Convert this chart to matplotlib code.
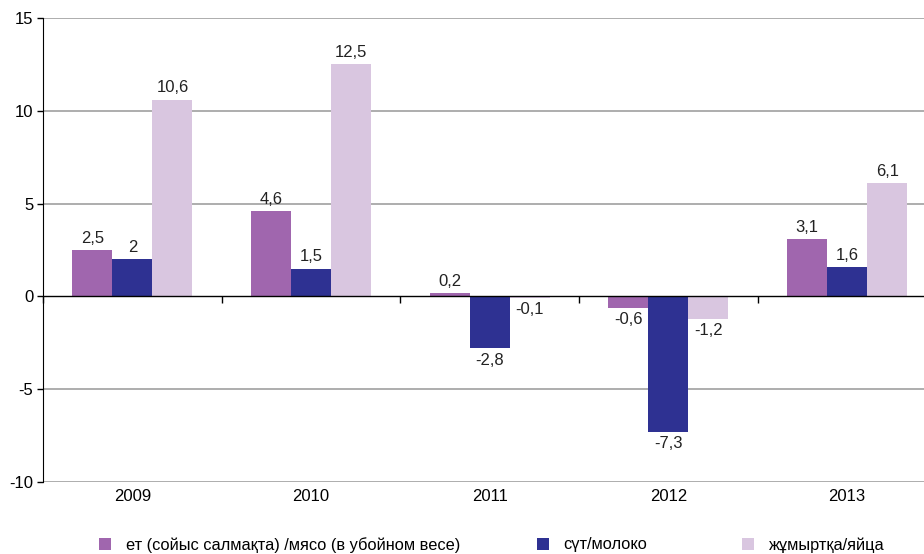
import matplotlib
matplotlib.use("Agg")
import matplotlib.pyplot as plt
import numpy as np

plt.rcParams['font.family'] = ['Liberation Sans', 'DejaVu Sans']

years = ['2009', '2010', '2011', '2012', '2013']
meat = [2.5, 4.6, 0.2, -0.6, 3.1]
milk = [2.0, 1.5, -2.8, -7.3, 1.6]
eggs = [10.6, 12.5, -0.1, -1.2, 6.1]
series_names = ['ет (сойыс салмақта) /мясо (в убойном весе)', 'сүт/молоко', 'жұмыртқа/яйца']
colors = ['#A066AE', '#2E3192', '#D9C6E0']
yticks = [-10, -5, 0, 5, 10, 15]

def fmt(v):
    return ('%g' % v).replace('.', ',')

fig = plt.figure(figsize=(9.24, 5.54), dpi=100)
cat_w = 178.7
ax = fig.add_axes([43/924, 1-482/554, 5*cat_w/924, (482-18)/554])

x = np.arange(len(years))
w = 0.224
FS = 12
handles = []
for i, (vals, c) in enumerate(zip([meat, milk, eggs], colors)):
    bc = ax.bar(x + (i-1)*w, vals, width=w, color=c, zorder=3)
    handles.append(bc)
    ax.bar_label(bc, labels=[fmt(v) for v in vals], padding=3, fontsize=FS, color='#222222')

ax.set_xlim(-0.5, len(years)-0.5)
ax.set_ylim(-10, 15)
ax.set_yticks(yticks)
ax.set_yticklabels([str(t) for t in yticks], fontsize=FS)
for t in yticks:
    if t != 0:
        ax.axhline(t, color='#A0A0A0', lw=1.2, zorder=1)
ax.axhline(0, color='black', lw=1.0, zorder=4)

ax.set_xticks(x)
ax.set_xticklabels(years, fontsize=FS)
ax.tick_params(axis='x', length=0, pad=5)
ax.tick_params(axis='y', length=4, direction='out', width=1, pad=3)

for s in ['top', 'right', 'bottom']:
    ax.spines[s].set_visible(False)
ax.spines['left'].set_color('black')

sec = ax.secondary_xaxis(0.4)
sec.set_xticks(np.arange(len(years)+1) - 0.5)
sec.set_xticklabels([])
sec.tick_params(axis='x', direction='out', length=5, width=1, color='black')
sec.spines['bottom'].set_visible(False)

legend_pos = [99/924, 537/924, 742/924]
for h, name, lx in zip(handles, series_names, legend_pos):
    fig.legend([h], [name], loc='center left', bbox_to_anchor=(lx, 1-545/554),
               frameon=False, fontsize=11.8, handlelength=0.73, handleheight=0.73,
               handletextpad=0.9, borderaxespad=0, borderpad=0)

fig.savefig('out.png', dpi=100)
